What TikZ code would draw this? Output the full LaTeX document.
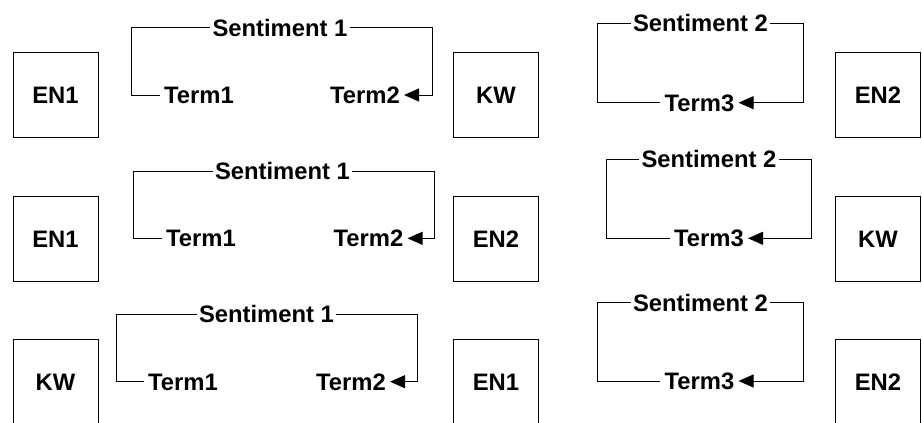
\documentclass[tikz,border=0pt]{standalone}
\usepackage{fontspec}
\setmainfont{Liberation Sans}
\usetikzlibrary{arrows.meta}
\begin{document}
\begin{tikzpicture}[x=1pt,y=-1pt,
  lbl/.style={font=\fontsize{23.8}{28}\selectfont\bfseries, text height=17pt, text depth=0pt},
  entity/.style={lbl, draw, line width=1pt, minimum width=85pt, minimum height=85pt, inner sep=0pt},
  senti/.style={lbl, inner xsep=2pt, inner ysep=0pt},
  term/.style={lbl, inner xsep=4pt, inner ysep=0pt},
  link/.style={line width=1pt},
  flow/.style={link, -{Triangle[length=15pt,width=13pt]}}]
\useasboundingbox (0,0) rectangle (922,423);

% entity boxes
\node[entity] (ea1) at (55.5,94.5) {EN1};
\node[entity] (eb1) at (496,94.5) {KW};
\node[entity] (ec1) at (878,94.5) {EN2};
\node[entity] (ea2) at (55.5,238.5) {EN1};
\node[entity] (eb2) at (496,238.5) {EN2};
\node[entity] (ec2) at (878,238.5) {KW};
\node[entity] (ea3) at (55.5,381.5) {KW};
\node[entity] (eb3) at (496,381.5) {EN1};
\node[entity] (ec3) at (878,381.5) {EN2};

% row 1, sentiment 1
\node[senti] (sa1) at (280,27.7) {Sentiment 1};
\node[term] (ta1) at (199,95) {Term1};
\node[term] (tb1) at (365,95) {Term2};
\coordinate (la1) at (131.7,27.7);
\coordinate (ra1) at (432.7,27.7);
\draw[link] (ta1.west) -| (la1) -- (sa1.west);
\draw[flow] (sa1.east) -- (ra1) |- (tb1.east);

% row 1, sentiment 2
\node[senti] (sb1) at (700.5,23.3) {Sentiment 2};
\node[term] (tc1) at (699.5,102.7) {Term3};
\coordinate (lb1) at (597.7,23.3);
\coordinate (rb1) at (803.3,23.3);
\draw[link] (tc1.west) -| (lb1) -- (sb1.west);
\draw[flow] (sb1.east) -- (rb1) |- (tc1.east);

% row 2, sentiment 1
\node[senti] (sa2) at (282.5,171) {Sentiment 1};
\node[term] (ta2) at (201,238.3) {Term1};
\node[term] (tb2) at (368.5,238.3) {Term2};
\coordinate (la2) at (133.3,171);
\coordinate (ra2) at (434.3,171);
\draw[link] (ta2.west) -| (la2) -- (sa2.west);
\draw[flow] (sa2.east) -- (ra2) |- (tb2.east);

% row 2, sentiment 2
\node[senti] (sb2) at (709,159) {Sentiment 2};
\node[term] (tc2) at (709,238.3) {Term3};
\coordinate (lb2) at (606,159);
\coordinate (rb2) at (811.7,159);
\draw[link] (tc2.west) -| (lb2) -- (sb2.west);
\draw[flow] (sb2.east) -- (rb2) |- (tc2.east);

% row 3, sentiment 1
\node[senti] (sa3) at (266.5,314.3) {Sentiment 1};
\node[term] (ta3) at (183,381.7) {Term1};
\node[term] (tb3) at (351,381.7) {Term2};
\coordinate (la3) at (116.7,314.3);
\coordinate (ra3) at (417.7,314.3);
\draw[link] (ta3.west) -| (la3) -- (sa3.west);
\draw[flow] (sa3.east) -- (ra3) |- (tb3.east);

% row 3, sentiment 2
\node[senti] (sb3) at (700.5,302.7) {Sentiment 2};
\node[term] (tc3) at (699.5,381) {Term3};
\coordinate (lb3) at (597.7,302.7);
\coordinate (rb3) at (803.3,302.7);
\draw[link] (tc3.west) -| (lb3) -- (sb3.west);
\draw[flow] (sb3.east) -- (rb3) |- (tc3.east);
\end{tikzpicture}
\end{document}
